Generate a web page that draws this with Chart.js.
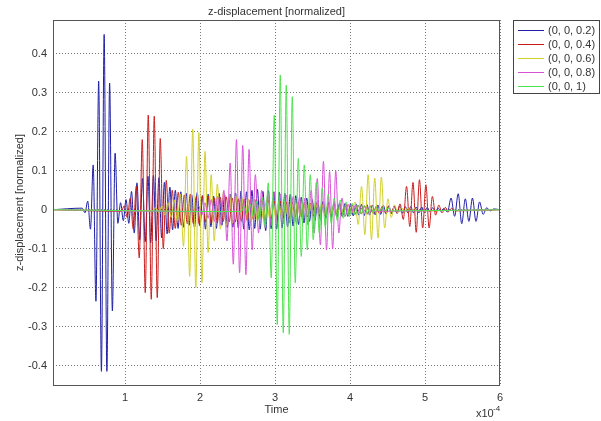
<!DOCTYPE html>
<html>
<head>
<meta charset="utf-8">
<script src="https://cdn.jsdelivr.net/npm/chart.js@4.4.1/dist/chart.umd.min.js"></script>
<style>
  html, body { margin: 0; padding: 0; background: #ffffff; }
</style>
</head>
<body>
<canvas id="chart" width="601" height="421"></canvas>
<script>
// Time axis is in units of 1e-4 s
const tMin = 0.04;
const tMax = 6;
const xTicks = [1, 2, 3, 4, 5, 6];
const yTicks = [-0.4, -0.3, -0.2, -0.1, 0, 0.1, 0.2, 0.3, 0.4];

const labels = ['(0, 0, 0.2)', '(0, 0, 0.4)', '(0, 0, 0.6)', '(0, 0, 0.8)', '(0, 0, 1)'];
const colors = ['#1e1ea6', '#c81c1c', '#d0d02a', '#d852d8', '#4ee24e'];

// Each wave train: sampled extremes, starting time and sample step
const blueMain = [
  0.004, -0.008, 0.022, -0.05, 0.115, -0.235, 0.33, -0.415, 0.45, -0.415,
  0.325, -0.26, 0.145, -0.035, 0.018, -0.028, 0.026, -0.035, 0.047, -0.06,
  0.069, -0.077, 0.08, -0.082, 0.086, -0.085, 0.088, -0.08, 0.082, -0.072,
  0.07, -0.062, 0.058, -0.052, 0.05, -0.048, 0.046, -0.045,
  0.042, -0.04, 0.038, -0.046, 0.044, -0.042, 0.036, -0.05, 0.04, -0.044,
  0.035, -0.048, 0.042, -0.04, 0.038, -0.046, 0.04, -0.045, 0.043, -0.047,
  0.048, -0.05, 0.046, -0.052, 0.05, -0.048, 0.052, -0.05, 0.047, -0.054,
  0.05, -0.049, 0.046, -0.05, 0.045, -0.047, 0.042, -0.044, 0.04, -0.042, 0.036, -0.038,
  0.032, -0.034, 0.03, -0.03, 0.026, -0.028, 0.024, -0.025, 0.022, -0.022, 0.02,
  -0.02, 0.018, -0.019, 0.017, -0.018, 0.016, -0.017, 0.015, -0.016, 0.015, -0.014, 0.014,
  -0.015, 0.013, -0.014, 0.012, -0.013, 0.012, -0.012, 0.011, -0.011, 0.01, -0.011, 0.01,
  -0.01, 0.009, -0.009, 0.008, -0.009, 0.008, -0.008, 0.007, -0.008, 0.007, -0.007, 0.006,
  -0.006, 0.005, -0.005, 0.004, -0.004, 0.003
];
const blueTail = [-0.006, 0.03, -0.017, 0.041, -0.036, 0.028, -0.03, 0.03, -0.03, 0.02, -0.012, 0.005, -0.003, 0.002];

const redMain = [
  -0.004, 0.01, -0.02, 0.03, -0.05, 0.06, -0.124, 0.18, -0.213, 0.243,
  -0.23, 0.24, -0.226, 0.183, -0.1, 0.075, -0.06, 0.05, -0.048, 0.045, -0.04,
  0.038, -0.036, 0.04, -0.035, 0.034, -0.038, 0.036, -0.032, 0.035, -0.036, 0.03,
  -0.034, 0.032, -0.03, 0.033, -0.031, 0.03, -0.032, 0.028, -0.03, 0.027,
  -0.028, 0.026, -0.025, 0.027, -0.024, 0.025, -0.026, 0.024, -0.023, 0.022, -0.024, 0.022,
  -0.021, 0.02, -0.022, 0.02, -0.019, 0.02, -0.018, 0.018, -0.019, 0.017, -0.016, 0.017, -0.016,
  0.015, -0.016, 0.014, -0.015, 0.014, -0.013, 0.014, -0.012, 0.013, -0.012, 0.012, -0.011,
  0.012, -0.011, 0.01, -0.011, 0.01, -0.01, 0.009, -0.01, 0.009, -0.008, 0.009, -0.008, 0.008
];
const redTail = [-0.008, 0.015, -0.025, 0.06, -0.043, 0.07, -0.058, 0.077, -0.047, 0.064, -0.047, 0.034, -0.014, 0.012, -0.008, 0.006, -0.005, 0.004, -0.003];

const yellowMain = [
  -0.003, 0.005, -0.008, 0.01, -0.014, 0.018, -0.02, 0.025, -0.03, 0.04,
  -0.094, 0.137, -0.171, 0.207, -0.2, 0.198, -0.188, 0.15, -0.11, 0.09,
  -0.08, 0.066, -0.05, 0.045,
  -0.04, 0.038, -0.035, 0.036, -0.032, 0.03, -0.034, 0.028, -0.03, 0.026, -0.028,
  0.025, -0.024, 0.026, -0.022, 0.024, -0.022, 0.02, -0.021, 0.02, -0.019, 0.018,
  -0.018, 0.017, -0.016, 0.018, -0.015, 0.016, -0.014, 0.015, -0.013, 0.014,
  -0.012, 0.012, -0.011, 0.011, -0.01, 0.01, -0.009, 0.008, -0.008
];
const yellowTail = [-0.01, 0.02, -0.038, 0.06, -0.064, 0.09, -0.077, 0.081, -0.073, 0.084, -0.047, 0.028, -0.02, 0.012, -0.008, 0.006, -0.005, 0.004, -0.004, 0.003, -0.003];

const magentaMain = [
  -0.005, 0.01, -0.014, 0.018, -0.022, 0.026, -0.03, 0.034, -0.038, 0.05,
  -0.08, 0.12, -0.14, 0.18, -0.162, 0.165, -0.167, 0.155, -0.103, 0.09,
  -0.06, 0.05,
  -0.045, 0.042, -0.04, 0.044, -0.038, 0.04, -0.036, 0.038, -0.035, 0.034, -0.036, 0.032, -0.03
];
const magentaTail = [0.03, -0.04, 0.05, -0.06, 0.08, -0.09, 0.124, -0.103, 0.098, -0.1, 0.1, -0.06, 0.03, -0.018, 0.014, -0.012, 0.01, -0.008, 0.007, -0.006, 0.005, -0.004];

const greenMain = [
  -0.005, 0.008, -0.01, 0.014, -0.018, 0.022, -0.026, 0.032, -0.045, 0.069,
  -0.175, 0.243, -0.295, 0.346, -0.316, 0.32, -0.32, 0.29, -0.188, 0.132,
  -0.12, 0.115, -0.103, 0.09, -0.077, 0.07, -0.06, 0.055, -0.045, 0.04,
  -0.035, 0.03, -0.028, 0.025, -0.022, 0.02, -0.018, 0.016, -0.014, 0.012,
  -0.011, 0.01, -0.009, 0.008, -0.007, 0.006, -0.005, 0.005, -0.004, 0.004, -0.003
];

// [start time, step, samples]
const waveTrains = [
  [[0.43, 0.0365, blueMain], [5.30, 0.0475, blueTail]],
  [[0.95, 0.04, redMain], [4.625, 0.043, redTail]],
  [[1.37, 0.041, yellowMain], [4.022, 0.044, yellowTail]],
  [[1.94, 0.042, magentaMain], [3.40, 0.041, magentaTail]],
  [[2.55, 0.04, greenMain]]
];

function buildPoints(trains) {
  const pts = [{ x: tMin, y: 0 }];
  trains.forEach(([start, step, vals]) => {
    vals.forEach((v, i) => pts.push({ x: start + i * step, y: v }));
  });
  pts.push({ x: tMax, y: 0 });
  return pts;
}

const FONT = 'Liberation Sans';
const TEXT = '#333333';

const datasets = labels.map((label, i) => ({
  label: label,
  data: buildPoints(waveTrains[i]),
  borderColor: colors[i],
  backgroundColor: colors[i],
  borderWidth: 1,
  pointRadius: 0,
  cubicInterpolationMode: 'monotone',
  order: labels.length - i
}));

const decorations = {
  id: 'decorations',
  afterDatasetsDraw(chart) {
    const { ctx, chartArea: a } = chart;
    ctx.save();
    ctx.strokeStyle = '#555555';
    ctx.lineWidth = 1;
    ctx.strokeRect(a.left + 0.5, a.top + 0.5, a.right - a.left - 1, a.bottom - a.top);
    ctx.restore();
  },
  afterDraw(chart) {
    const { ctx, chartArea: a } = chart;
    const cx = (a.left + a.right) / 2;
    ctx.save();
    ctx.fillStyle = TEXT;
    ctx.font = '11px "' + FONT + '"';
    ctx.textAlign = 'center';
    ctx.textBaseline = 'middle';
    ctx.fillText('z-displacement [normalized]', cx, 12);
    ctx.fillText('Time', cx, 410);

    ctx.save();
    ctx.translate(20, (a.top + a.bottom) / 2);
    ctx.rotate(-Math.PI / 2);
    ctx.fillText('z-displacement [normalized]', 0, 0);
    ctx.restore();

    // axis multiplier
    ctx.textAlign = 'left';
    ctx.textBaseline = 'alphabetic';
    ctx.fillText('x10', 476, 417);
    ctx.font = '8px "' + FONT + '"';
    ctx.fillText('-4', 493, 411);

    // legend box
    const lx = 513, ly = 20, lw = 86, lh = 73;
    ctx.fillStyle = '#ffffff';
    ctx.fillRect(lx, ly, lw, lh);
    ctx.strokeStyle = '#444444';
    ctx.lineWidth = 1;
    ctx.strokeRect(lx + 0.5, ly + 0.5, lw, lh);
    ctx.font = '11px "' + FONT + '"';
    ctx.textBaseline = 'middle';
    chart.data.datasets.forEach((ds, i) => {
      const y = 30.5 + i * 14;
      ctx.strokeStyle = ds.borderColor;
      ctx.beginPath();
      ctx.moveTo(518, y);
      ctx.lineTo(544, y);
      ctx.stroke();
      ctx.fillStyle = TEXT;
      ctx.fillText(ds.label, 548, y);
    });
    ctx.restore();
  }
};

new Chart(document.getElementById('chart'), {
  type: 'line',
  data: { datasets: datasets },
  options: {
    responsive: false,
    animation: false,
    events: [],
    layout: { padding: { left: 0, right: 101, top: 20, bottom: 0 } },
    plugins: {
      legend: { display: false },
      tooltip: { enabled: false }
    },
    scales: {
      x: {
        type: 'linear',
        min: tMin,
        max: tMax,
        afterBuildTicks: s => { s.ticks = xTicks.map(v => ({ value: v })); },
        afterFit: s => { s.height = 36; },
        ticks: {
          color: TEXT,
          font: { family: FONT, size: 11 },
          padding: 6,
          maxRotation: 0,
          autoSkip: false
        },
        grid: { color: '#777777', lineWidth: 1, drawTicks: false },
        border: { display: false, dash: [1, 2] }
      },
      y: {
        type: 'linear',
        min: -0.45,
        max: 0.487,
        afterBuildTicks: s => { s.ticks = yTicks.map(v => ({ value: v })); },
        afterFit: s => { s.width = 53; },
        ticks: {
          color: TEXT,
          font: { family: FONT, size: 11 },
          padding: 6,
          callback: v => String(+v.toFixed(1))
        },
        grid: { color: '#777777', lineWidth: 1, drawTicks: false },
        border: { display: false, dash: [1, 2] }
      }
    }
  },
  plugins: [decorations]
});
</script>
</body>
</html>
